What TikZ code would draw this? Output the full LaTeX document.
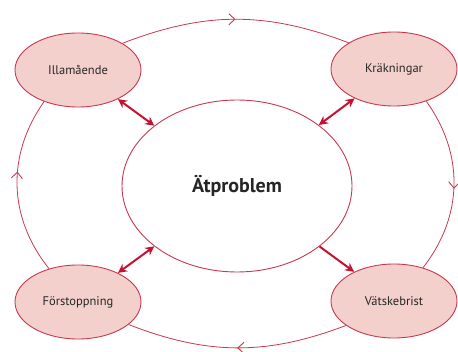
\documentclass[tikz,border=0pt]{standalone}
\usepackage{fontspec}
\setmainfont{PT Sans}
\usepackage{xcolor}
\usetikzlibrary{arrows.meta,shapes.geometric,decorations.markings}

\definecolor{rimRed}{HTML}{C8374F}
\definecolor{arrRed}{HTML}{C41230}
\definecolor{skin}{HTML}{F3D0CB}

\begin{document}
\begin{tikzpicture}[
  x=1pt, y=1pt,
  sym/.style={draw=rimRed, fill=skin, ellipse, line width=0.9pt, inner sep=0pt,
              minimum width=126pt, minimum height=74pt, text=black!85,
              font=\fontsize{12.5}{14}\selectfont},
  core/.style={draw=rimRed, ellipse, line width=0.9pt, inner sep=0pt,
               minimum width=230pt, minimum height=172pt, text=black!85,
               font=\fontsize{20}{24}\selectfont\bfseries},
  cyc/.style={draw=rimRed, line width=0.8pt, postaction={decorate},
              decoration={markings, mark=at position #1 with
                {\arrow{Straight Barb[length=6pt, width=11pt, line width=0.9pt]}}}},
  cyc/.default=0.5,
  link/.style={arrRed, line width=2pt, {Stealth[length=9pt, width=9pt]}-{Stealth[length=9pt, width=9pt]}},
  push/.style={arrRed, line width=2pt, -{Stealth[length=9pt, width=9pt]}}
]
  \useasboundingbox (0,0) rectangle (458,351);

  \node[core] (atp) at (237,165) {Ätproblem};
  \node[sym] (illa) at (78,281) {Illamående};
  \node[sym] (krak) at (394,282) {Kräkningar};
  \node[sym] (forst) at (78,49) {Förstoppning};
  \node[sym] (vats) at (394,50) {Vätskebrist};

  % Outer cycle
  \draw[cyc] (illa.31) to[bend left=21] (krak.150);
  \draw[cyc=0.52] (krak.-45) to[bend left=37] (vats.49);
  \draw[cyc] (vats.207) to[bend left=21] (forst.-24);
  \draw[cyc=0.58] (forst.131) to[bend left=37] (illa.223);

  % Links to the centre
  \draw[link] (illa) -- (atp);
  \draw[link] (krak) -- (atp);
  \draw[link] (forst) -- (atp);
  \draw[push] (atp) -- (vats);
\end{tikzpicture}
\end{document}
